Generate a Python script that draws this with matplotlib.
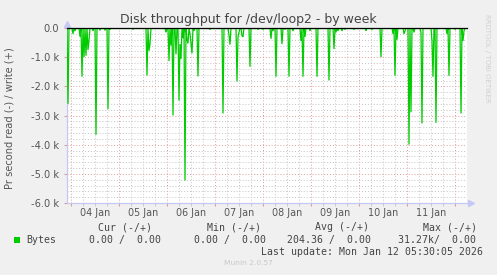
import numpy as np
import matplotlib
matplotlib.use('Agg')
import matplotlib.pyplot as plt
from matplotlib import transforms

W, H, DPI = 497, 275, 100

title = "Disk throughput for /dev/loop2 - by week"
y_label = "Pr second read (-) / write (+)"
day_labels = ["04 Jan", "05 Jan", "06 Jan", "07 Jan", "08 Jan", "09 Jan", "10 Jan", "11 Jan"]
y_ticks = [0, -1000, -2000, -3000, -4000, -5000, -6000]
y_tick_labels = ["0.0", "-1.0 k", "-2.0 k", "-3.0 k", "-4.0 k", "-5.0 k", "-6.0 k"]

# hours since 04 Jan 00:00 (30-minute samples) and read bytes/s
spike_hours = [-1.5, 1, 2, 4.5, 5.5, 6.5, 7.5, 8.5, 9, 11,
               12.5, 14.5, 17, 18.5, 19.5, 31, 38, 39, 39.5, 47.5,
               49, 50, 51, 52.5, 54, 54.5, 55, 56, 57, 58,
               58.5, 59.5, 60, 60.5, 61.5, 63.5, 69.5, 76, 79, 79.5,
               83, 83.5, 84, 85.5, 86, 89.5, 93.5, 96, 100, 101,
               102.5, 105.5, 107, 109, 111, 115, 116, 117, 119.5, 123,
               129, 131.5, 132.5, 133.5, 135.5, 137, 141.5, 147.5, 150.5, 155,
               161, 162, 163, 166.5, 167, 169, 170, 171.5, 175, 175.5,
               180.5, 181, 182.5, 188, 189, 192, 195, 196, 196.5]
spike_read = [2600, 200, 100, 300, 1670, 1000, 950, 750, 430, 100,
              3660, 80, 80, 2780, 50, 50, 1630, 780, 550, 150,
              1130, 600, 3000, 900, 2490, 550, 1060, 350, 5230, 400,
              530, 200, 550, 870, 100, 1660, 50, 2930, 250, 570,
              1830, 300, 150, 270, 300, 1330, 50, 50, 370, 100,
              1670, 550, 50, 1670, 100, 450, 1670, 300, 100, 1670,
              1800, 720, 150, 100, 100, 50, 50, 100, 50, 1000,
              200, 1640, 400, 200, 100, 4000, 2890, 150, 150, 3270,
              450, 1670, 3250, 200, 1640, 50, 2930, 440, 100]

legend_header = ["Cur (-/+)", "Min (-/+)", "Avg (-/+)", "Max (-/+)"]
legend_values = ["0.00 /  0.00", "0.00 /  0.00", "204.36 /  0.00", "31.27k/  0.00"]
series_name = "Bytes"
last_update = "Last update: Mon Jan 12 05:30:05 2026"
version = "Munin 2.0.57"
side_text = "RRDTOOL / TOBI OETIKER"

t_start, t_end = -2.0, 198.0

# build series on the 30-minute grid
t = np.arange(t_start, t_end + 0.25, 0.5)
read = np.zeros_like(t)
for h, v in zip(spike_hours, spike_read):
    read[int(round((h - t_start) / 0.5))] = v
write = np.zeros_like(t)

fig = plt.figure(figsize=(W / DPI, H / DPI), dpi=DPI, facecolor='#F0F0F0')
ax = fig.add_axes([67 / W, (H - 203) / H, 400 / W, 175 / H])
ax.set_facecolor('white')
ax.set_xlim(t_start, t_end)
ax.set_ylim(-6000, 0)

minor_c = '#C4C4C4'
major_c = '#E09C9C'
dot = (0, (1, 2))
for h in np.arange(0, t_end, 6):
    if h % 24 != 0:
        ax.axvline(h, color=minor_c, lw=0.7, ls=dot, zorder=1)
for h in np.arange(0, t_end, 24):
    ax.axvline(h, color=major_c, lw=0.7, ls=dot, zorder=1)
for y in np.arange(-6000, 0, 200):
    if y % 1000 != 0:
        ax.axhline(y, color=minor_c, lw=0.7, ls=dot, zorder=1)
for y in y_ticks:
    ax.axhline(y, color=major_c, lw=0.7, ls=dot, zorder=1)

ax.plot(t, write, color='#00CC00', lw=0.9, zorder=3)
ax.plot(t, -read, color='#00CC00', lw=0.9, zorder=3, solid_joinstyle='miter')
ax.axhline(0, color='black', lw=0.9, zorder=4, clip_on=False)

for s in ['top', 'right']:
    ax.spines[s].set_visible(False)
for s in ['left', 'bottom']:
    ax.spines[s].set_color('#C4C8F4')
    ax.spines[s].set_linewidth(0.9)
ax.spines['left'].set_bounds(-6000, 0)

ax.set_yticks(y_ticks)
ax.set_yticklabels(y_tick_labels, fontsize=7.1, color='#555555', family='DejaVu Sans')
ax.tick_params(axis='y', length=2, color=major_c, pad=3.6)
ax.set_xticks(np.arange(0, t_end, 24))
ax.set_xticklabels([])
ax.set_xticks([h for h in np.arange(0, t_end, 6) if h % 24 != 0], minor=True)
ax.tick_params(axis='x', which='major', length=2, color=major_c)
ax.tick_params(axis='x', which='minor', length=2, color=minor_c)
ax.tick_params(axis='y', which='minor', length=0)

bt = transforms.blended_transform_factory(ax.transData, ax.transAxes)
for i, lab in enumerate(day_labels):
    ax.text(12 + 24 * i, -0.057, lab, transform=bt, ha='center', va='center',
            fontsize=6.9, color='#555555')

# axis arrows
ax.plot([0], [1.0], marker='^', ms=4, color='#C4C8F4', transform=transforms.offset_copy(ax.transAxes, fig=fig, x=0, y=3, units='points'), clip_on=False)
ax.plot([1.0], [0], marker='>', ms=4, color='#C4C8F4', transform=transforms.offset_copy(ax.transAxes, fig=fig, x=3, y=0, units='points'), clip_on=False)

def px(x, y):
    return x / W, 1 - y / H

fig.text(*px(248, 20), title, ha='center', va='center', fontsize=9.0, color='#444444')
fig.text(*px(10, 118), y_label, ha='center', va='center', rotation=90, fontsize=7.1, color='#555555')
fig.text(*px(487, 58), side_text, ha='center', va='center', rotation=270, fontsize=5.0, color='#D0D0D0')

mono = dict(family='DejaVu Sans Mono', fontsize=7.1, color='#444444', va='center', ha='left')
for x, s in zip([98.3, 206.7, 315, 422.7], legend_header):
    fig.text(*px(x, 227.3), s, **mono)
fig.patches.append(plt.Rectangle(px(14, 243), 6 / W, 6 / H, transform=fig.transFigure,
                                 facecolor='#00CC00', edgecolor='none'))
fig.text(*px(26.7, 239.7), series_name, **mono)
for x, s in zip([89.3, 194.3, 287.3, 398.3], legend_values):
    fig.text(*px(x, 239.7), s, **mono)
fig.text(*px(483, 251.7), last_update, **{**mono, 'ha': 'right'})
fig.text(*px(248, 263.3), version, ha='center', va='center', fontsize=5.4, color='#C8C8C8')

fig.savefig('out.png', dpi=DPI, facecolor=fig.get_facecolor())
